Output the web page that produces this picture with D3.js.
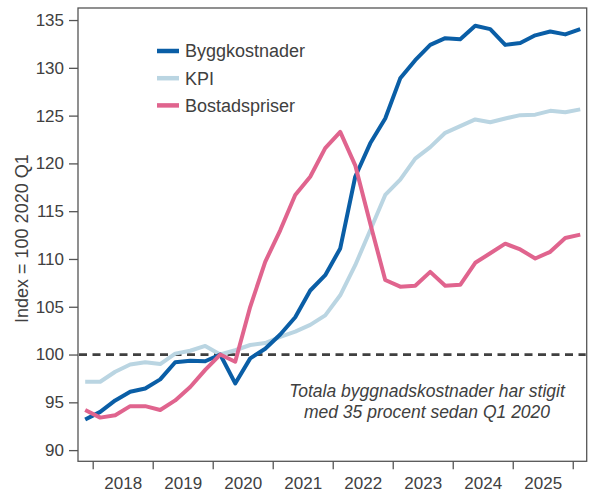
<!DOCTYPE html>
<html>
<head>
<meta charset="utf-8">
<script src="https://cdn.jsdelivr.net/npm/d3@7"></script>
<style>
  html, body { margin: 0; padding: 0; background: #fff; }
  svg { display: block; font-family: "Liberation Sans", Arial, sans-serif; }
</style>
</head>
<body>
<svg id="chart" width="589" height="495"></svg>
<script>
// ---- data ----
const quarters = ["2017K4",
  "2018K1","2018K2","2018K3","2018K4",
  "2019K1","2019K2","2019K3","2019K4",
  "2020K1","2020K2","2020K3","2020K4",
  "2021K1","2021K2","2021K3","2021K4",
  "2022K1","2022K2","2022K3","2022K4",
  "2023K1","2023K2","2023K3","2023K4",
  "2024K1","2024K2","2024K3","2024K4",
  "2025K1","2025K2","2025K3","2025K4",
  "2026K1"];
const byggkostnader = [93.2, 94.0, 95.2, 96.1, 96.45, 97.4, 99.2, 99.35, 99.3, 100, 96.98, 99.6, 100.6, 102.1, 103.9, 106.7, 108.3, 111.1, 118.6, 122.1, 124.7, 128.9, 130.8, 132.4, 133.1, 133.0, 134.4, 134.05, 132.4, 132.6, 133.4, 133.8, 133.5, 134.05];
const kpi = [97.15, 97.15, 98.2, 98.96, 99.2, 99.0, 100.1, 100.4, 100.9, 100, 100.45, 101.0, 101.2, 101.85, 102.4, 103.1, 104.1, 106.2, 109.35, 113.0, 116.7, 118.3, 120.5, 121.7, 123.2, 123.9, 124.6, 124.3, 124.7, 125.05, 125.1, 125.5, 125.35, 125.65];
const bostadspriser = [94.2, 93.4, 93.65, 94.6, 94.6, 94.2, 95.2, 96.6, 98.4, 100, 99.25, 105.0, 109.7, 113.0, 116.7, 118.6, 121.6, 123.3, 119.8, 113.7, 107.8, 107.1, 107.2, 108.65, 107.2, 107.3, 109.6, 110.6, 111.6, 111.0, 110.05, 110.75, 112.2, 112.55];
const years = ["2018","2019","2020","2021","2022","2023","2024","2025"];
const yTicks = [90, 95, 100, 105, 110, 115, 120, 125, 130, 135];
const seriesNames = ["Byggkostnader", "KPI", "Bostadspriser"];
const seriesColors = ["#0a5ea6", "#bad5e2", "#e0648e"];
const referenceValue = 100;
const annotationLines = ["Totala byggnadskostnader har stigit", "med 35 procent sedan Q1 2020"];
const yTitle = "Index = 100 2020 Q1";

// ---- layout ----
const plotL = 78, plotR = 586.7, plotT = 8, plotB = 461.3;
const svg = d3.select("#chart");
const textColor = "#404040";
const axisColor = "#555";

const x = d3.scaleLinear().domain([-0.48, 33.43]).range([plotL, plotR]);
const y = d3.scaleLinear().domain([88.83, 136.26]).range([plotB, plotT]);

// year boundaries (Q1 start of each year) and mid-year label positions, in quarter-index units
const yearIndex = d => quarters.indexOf(d + "K1");
const boundaries = years.map(yv => yearIndex(yv) - 0.5).concat([quarters.indexOf("2026K1") - 0.5]);
const mids = years.map(yv => yearIndex(yv) + 1.5);

// frame
svg.append("rect")
  .attr("x", plotL).attr("y", plotT)
  .attr("width", plotR - plotL).attr("height", plotB - plotT)
  .attr("fill", "none").attr("stroke", axisColor).attr("stroke-width", 1.3);

// y axis
const yAxis = svg.append("g").attr("transform", `translate(${plotL},0)`)
  .call(d3.axisLeft(y).tickValues(yTicks).tickSize(9).tickPadding(5).tickFormat(d3.format("d")));
yAxis.select(".domain").remove();
yAxis.selectAll(".tick line").attr("stroke", axisColor).attr("stroke-width", 1.3);
yAxis.selectAll(".tick text").attr("fill", textColor).style("font-size", "17px")
  .style("font-family", "Liberation Sans, Arial, sans-serif");

// x axis ticks (year boundaries)
const xAxis = svg.append("g").attr("transform", `translate(0,${plotB})`)
  .call(d3.axisBottom(x).tickValues(boundaries).tickSize(8).tickFormat(""));
xAxis.select(".domain").remove();
xAxis.selectAll(".tick line").attr("stroke", axisColor).attr("stroke-width", 1.3);

// x labels (mid-year)
const xLab = svg.append("g").attr("transform", `translate(0,${plotB})`)
  .call(d3.axisBottom(x).tickValues(mids).tickSize(0).tickPadding(16).tickFormat((d, i) => years[i]));
xLab.select(".domain").remove();
xLab.selectAll(".tick text").attr("fill", textColor).style("font-size", "17px")
  .style("font-family", "Liberation Sans, Arial, sans-serif");

// y title
svg.append("text")
  .attr("transform", `translate(28,${(plotT + plotB) / 2 + 4}) rotate(-90)`)
  .attr("text-anchor", "middle")
  .attr("fill", textColor)
  .style("font-size", "18px")
  .text(yTitle);

// reference line
svg.append("line")
  .attr("x1", plotL + 1).attr("x2", plotR - 1)
  .attr("y1", y(referenceValue)).attr("y2", y(referenceValue))
  .attr("stroke", "#404040").attr("stroke-width", 2.8)
  .attr("stroke-dasharray", "8,5.5");

// lines
const series = [byggkostnader, kpi, bostadspriser];
const line = d3.line().x((d, i) => x(i)).y(d => y(d));
const drawOrder = [1, 0, 2];
drawOrder.forEach(k => {
  svg.append("path")
    .datum(series[k])
    .attr("d", line)
    .attr("fill", "none")
    .attr("stroke", seriesColors[k])
    .attr("stroke-width", 4)
    .attr("stroke-linejoin", "round");
});

// legend
const legend = svg.append("g").attr("transform", "translate(157,51)");
seriesNames.forEach((name, i) => {
  const g = legend.append("g").attr("transform", `translate(0,${i * 27.2})`);
  g.append("line").attr("x1", 0).attr("x2", 22).attr("y1", 0).attr("y2", 0)
    .attr("stroke", seriesColors[i]).attr("stroke-width", 4.5);
  g.append("text").attr("x", 28).attr("y", 0).attr("dy", "0.35em")
    .attr("fill", textColor).style("font-size", "18px").text(name);
});

// annotation
const ann = svg.append("text")
  .attr("text-anchor", "middle")
  .attr("fill", textColor)
  .style("font-size", "17.5px")
  .style("font-style", "italic");
annotationLines.forEach((t, i) => {
  ann.append("tspan").attr("x", 427).attr("y", 397 + i * 21).text(t);
});
</script>
</body>
</html>
